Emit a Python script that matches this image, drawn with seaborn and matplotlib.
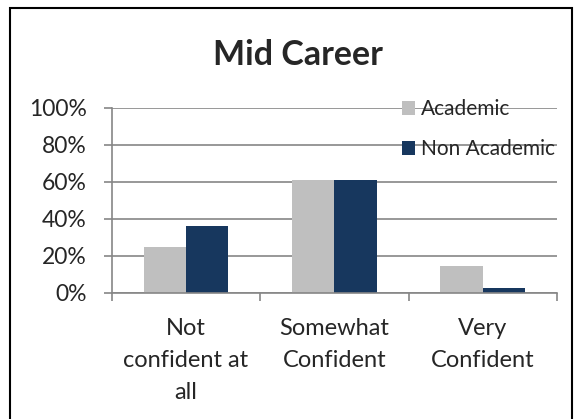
import pandas as pd
import matplotlib.pyplot as plt
import seaborn as sns
from matplotlib.patches import Rectangle
from matplotlib.ticker import PercentFormatter

categories = ["Not\nconfident at\nall", "Somewhat\nConfident", "Very\nConfident"]
academic = [0.245, 0.607, 0.142]
non_academic = [0.361, 0.607, 0.027]
series = ["Academic", "Non Academic"]
colors = ["#BFBFBF", "#17375E"]

df = pd.DataFrame({
    "category": categories * 2,
    "group": [series[0]] * 3 + [series[1]] * 3,
    "value": academic + non_academic,
})

sns.set_style("white")
plt.rcParams["font.family"] = ["Lato", "DejaVu Sans"]

fig = plt.figure(figsize=(5.77, 4.19), dpi=100)
ax = fig.add_axes([111.7 / 577, 1 - 292.5 / 419, 445.3 / 577, 185 / 419])

sns.barplot(data=df, x="category", y="value", hue="group", palette=colors,
            width=0.57, gap=0, saturation=1, ax=ax, linewidth=0)

ax.set_ylim(0, 1)
ax.set_xlim(-0.5, 2.5)
ax.set_yticks([0, 0.2, 0.4, 0.6, 0.8, 1.0])
ax.yaxis.set_major_formatter(PercentFormatter(1.0, decimals=0))
ax.yaxis.grid(True, color="#868686", linewidth=1.2)
ax.set_axisbelow(True)
ax.set_xlabel("")
ax.set_ylabel("")

for s in ["top", "right"]:
    ax.spines[s].set_visible(False)
for s in ["left", "bottom"]:
    ax.spines[s].set_color("#868686")
    ax.spines[s].set_linewidth(1.2)

ax.tick_params(axis="y", left=True, length=6, color="#868686", width=1.2,
               labelsize=16.5, pad=12)
ax.set_xticks([0, 1, 2])
ax.set_xticks([-0.5, 0.5, 1.5, 2.5], minor=True)
ax.tick_params(axis="x", which="major", length=0, labelsize=17, pad=18)
ax.tick_params(axis="x", which="minor", bottom=True, length=6,
               color="#868686", width=1.2)
ax.set_xticklabels(categories, linespacing=1.67)

leg = ax.legend(loc="upper left", bbox_to_anchor=(402 / 577, 1 - 99 / 419),
                bbox_transform=fig.transFigure, frameon=False, fontsize=15,
                handlelength=0.63, handleheight=0.65, handletextpad=0.3,
                labelspacing=0.97, borderpad=0, borderaxespad=0)

fig.text(297.5 / 577, 1 - 65 / 419, "Mid Career", ha="center", va="baseline",
         fontsize=24.5, fontweight="bold")

fig.patches.append(Rectangle((10 / 577, -0.05), 562 / 577, 1.05 - 8 / 419,
                             transform=fig.transFigure, fill=False,
                             edgecolor="black", linewidth=1.5))

fig.savefig("out.png", dpi=100)
